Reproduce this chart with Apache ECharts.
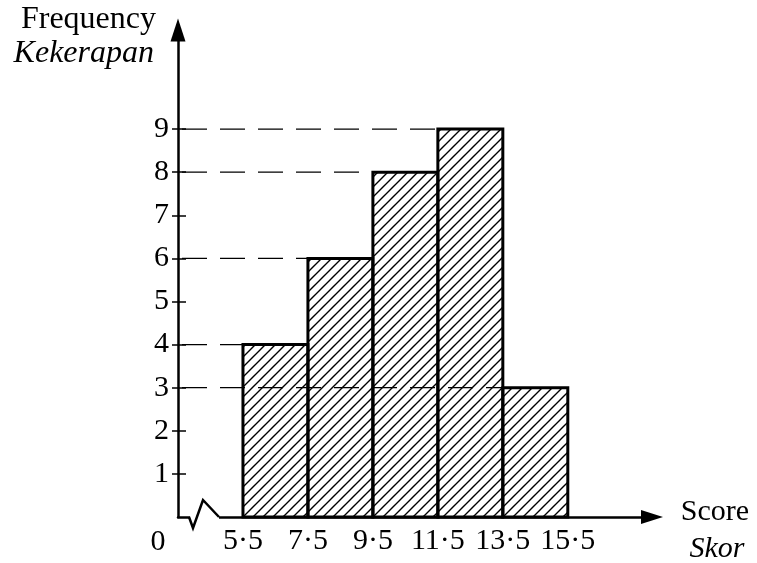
<!DOCTYPE html>
<html>
<head>
<meta charset="utf-8">
<script src="https://cdn.jsdelivr.net/npm/echarts@6/dist/echarts.min.js"></script>
<style>
  html, body { margin: 0; padding: 0; background: #fff; }
  #chart { width: 757px; height: 563px; }
</style>
</head>
<body>
<div id="chart"></div>
<script>
// class boundaries and frequencies (histogram)
var binStarts = [5.5, 7.5, 9.5, 11.5, 13.5];
var binEnds = [7.5, 9.5, 11.5, 13.5, 15.5];
var frequencies = [4, 6, 8, 9, 3];
var xTickValues = [5.5, 7.5, 9.5, 11.5, 13.5, 15.5];
var yTickValues = [1, 2, 3, 4, 5, 6, 7, 8, 9];

var X_MIN = 3.5, X_MAX = 18;
var Y_MIN = 0, Y_MAX = 11.3;
var FONT = '"Liberation Serif", "DejaVu Serif", serif';
var FS = 30;      // tick labels
var FS_T = 32;    // axis titles

// diagonal hatch tile
function makeHatch() {
  var c = document.createElement('canvas');
  c.width = 10; c.height = 10;
  var ctx = c.getContext('2d');
  ctx.strokeStyle = '#000';
  ctx.lineWidth = 1.4;
  ctx.beginPath();
  ctx.moveTo(-1, 11); ctx.lineTo(11, -1);
  ctx.moveTo(-1, 1); ctx.lineTo(1, -1);
  ctx.moveTo(9, 11); ctx.lineTo(11, 9);
  ctx.stroke();
  return c;
}
var hatch = makeHatch();

var histData = binStarts.map(function (s, i) {
  return [s, binEnds[i], frequencies[i]];
});

var chart = echarts.init(document.getElementById('chart'));

chart.setOption({
  animation: false,
  backgroundColor: '#fff',
  grid: { left: 178, right: 108, top: 30, bottom: 46 },
  xAxis: {
    type: 'value',
    min: X_MIN,
    max: X_MAX,
    splitLine: { show: false },
    axisLine: {
      lineStyle: { color: '#000', width: 2.5 },
      symbol: ['none', 'triangle'],
      symbolSize: [14, 22],
      symbolOffset: [0, 3]
    },
    axisTick: { show: false },
    axisLabel: {
      customValues: xTickValues,
      color: '#000',
      fontFamily: FONT,
      fontSize: FS,
      margin: 9,
      formatter: function (v) { return String(v).replace('.', '·'); }
    }
  },
  yAxis: [{
    type: 'value',
    min: Y_MIN,
    max: Y_MAX,
    splitLine: { show: false },
    axisLine: {
      lineStyle: { color: '#000', width: 2.5 },
      symbol: ['none', 'triangle'],
      symbolSize: [15, 23],
      symbolOffset: [0, 0]
    },
    axisTick: { customValues: yTickValues, length: 6, lineStyle: { color: '#000', width: 1.5 } },
    axisLabel: {
      customValues: yTickValues,
      color: '#000',
      fontFamily: FONT,
      fontSize: FS,
      margin: 9
    }
  }, {
    // inner half of the crossing ticks
    type: 'value',
    min: Y_MIN,
    max: Y_MAX,
    position: 'left',
    splitLine: { show: false },
    axisLine: { show: false },
    axisTick: { customValues: yTickValues, inside: true, length: 8, lineStyle: { color: '#000', width: 1.5 } },
    axisLabel: { show: false }
  }],
  series: [{
    type: 'custom',
    name: 'freq',
    data: histData,
    encode: { x: [0, 1], y: 2 },
    z: 2,
    renderItem: function (params, api) {
      var p0 = api.coord([api.value(0), 0]);
      var p1 = api.coord([api.value(1), api.value(2)]);
      return {
        type: 'rect',
        shape: { x: p0[0], y: p1[1], width: p1[0] - p0[0], height: p0[1] - p1[1] },
        style: { fill: { image: hatch, repeat: 'repeat' }, stroke: '#000', lineWidth: 3 }
      };
    }
  }, {
    // dashed guide lines from the y axis to each bar top
    type: 'custom',
    name: 'guides',
    data: histData,
    encode: { x: 0, y: 2 },
    z: 3,
    renderItem: function (params, api) {
      var a = api.coord([X_MIN, api.value(2)]);
      var b = api.coord([api.value(0), api.value(2)]);
      return {
        type: 'line',
        shape: { x1: a[0] + 4, y1: a[1], x2: b[0], y2: b[1] },
        style: { stroke: '#000', lineWidth: 1.3, lineDash: [25, 13], fill: null }
      };
    }
  }]
});

// axis break zigzag, axis titles and the origin label
var o = chart.convertToPixel({ xAxisIndex: 0, yAxisIndex: 0 }, [X_MIN, 0]);
chart.setOption({
  graphic: [
    { type: 'rect', z: 100, shape: { x: o[0] + 12, y: o[1] - 4, width: 29, height: 8 }, style: { fill: '#fff' } },
    { type: 'polyline', z: 101, shape: { points: [[o[0] + 11, o[1]], [o[0] + 15, o[1] + 11], [o[0] + 25, o[1] - 17], [o[0] + 41, o[1]]] },
      style: { stroke: '#000', lineWidth: 2.5, fill: null } },
    { type: 'text', z: 101, x: 156, y: 20, style: { text: 'Frequency', font: FS_T + 'px ' + FONT, fill: '#000', textAlign: 'right', textVerticalAlign: 'middle' } },
    { type: 'text', z: 101, x: 154, y: 54, style: { text: 'Kekerapan', font: 'italic ' + FS_T + 'px ' + FONT, fill: '#000', textAlign: 'right', textVerticalAlign: 'middle' } },
    { type: 'text', z: 101, x: 715, y: 512, style: { text: 'Score', font: FS + 'px ' + FONT, fill: '#000', textAlign: 'center', textVerticalAlign: 'middle' } },
    { type: 'text', z: 101, x: 717, y: 549, style: { text: 'Skor', font: 'italic ' + FS + 'px ' + FONT, fill: '#000', textAlign: 'center', textVerticalAlign: 'middle' } },
    { type: 'text', z: 101, x: o[0] - 20, y: o[1] + 25, style: { text: '0', font: FS + 'px ' + FONT, fill: '#000', textAlign: 'center', textVerticalAlign: 'middle' } }
  ]
});
</script>
</body>
</html>
